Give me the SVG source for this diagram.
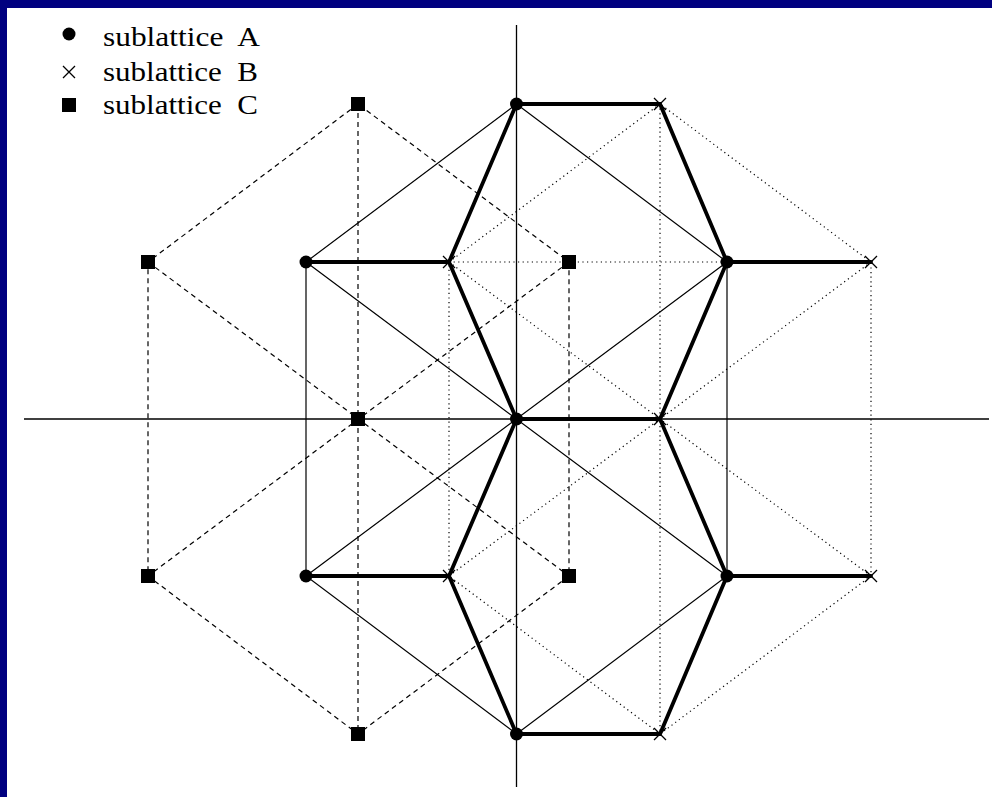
<svg xmlns="http://www.w3.org/2000/svg" width="992" height="797" viewBox="0 0 992 797">
<style>
.ax{stroke:#000;stroke-width:1.3;fill:none}
.a{stroke:#000;stroke-width:1.2;fill:none}
.b{stroke:#000;stroke-width:1.2;fill:none;stroke-dasharray:1.2 3.4}
.c{stroke:#000;stroke-width:1.2;fill:none;stroke-dasharray:5 4}
.t{stroke:#000;stroke-width:3.8;fill:none;stroke-linecap:round}
.x{stroke:#000;stroke-width:1.3;fill:none}
.lbl{font-family:"Liberation Serif","Times New Roman",serif;font-size:27px;fill:#000}
</style>
<defs>
<circle id="mA" r="6.5" fill="#000"/>
<path id="mB" d="M-6,-6L6,6M-6,6L6,-6" class="x"/>
<rect id="mC" x="-7" y="-7" width="14" height="14" fill="#000"/>
</defs>
<rect x="0" y="0" width="992" height="797" fill="#fff"/>
<rect x="0" y="0" width="992" height="8" fill="#000080"/>
<rect x="0" y="0" width="7" height="797" fill="#000080"/>
<g id="axes">
<line class="ax" x1="24" y1="419" x2="989" y2="419"/>
<line class="ax" x1="516.5" y1="25" x2="516.5" y2="787"/>
</g>
<g id="connectors">
<g id="sublatticeC-lines">
<path class="c" d="M358,104L148,262L148,576L358,734L569,576L569,262Z"/>
<path class="c" d="M358,104L358,734M148,262L569,576M569,262L148,576"/>
</g>
<g id="sublatticeB-lines">
<path class="b" d="M660,104L449,262L449,576L660,734L871,576L871,262Z"/>
<path class="b" d="M660,104L660,734M449,262L871,576M871,262L449,576M449,262L871,262"/>
</g>
<g id="sublatticeA-lines">
<path class="a" d="M516.5,104L306,262L306,576L516.5,734L727,576L727,262Z"/>
<path class="a" d="M306,262L727,576M727,262L306,576"/>
</g>
<g id="bonds">
<path class="t" d="M306,262L449,262L516.5,104L660,104L727,262L871,262"/>
<path class="t" d="M449,262L516.5,419L660,419L727,262"/>
<path class="t" d="M306,576L449,576L516.5,419"/>
<path class="t" d="M660,419L727,576L871,576"/>
<path class="t" d="M449,576L516.5,734L660,734L727,576"/>
</g>
</g>
<g id="nodesA">
<use href="#mA" x="516.5" y="104"/>
<use href="#mA" x="306" y="262"/>
<use href="#mA" x="727" y="262"/>
<use href="#mA" x="516.5" y="419"/>
<use href="#mA" x="306" y="576"/>
<use href="#mA" x="727" y="576"/>
<use href="#mA" x="516.5" y="734"/>
</g>
<g id="nodesB">
<use href="#mB" x="660" y="104"/>
<use href="#mB" x="449" y="262"/>
<use href="#mB" x="871" y="262"/>
<use href="#mB" x="660" y="419"/>
<use href="#mB" x="449" y="576"/>
<use href="#mB" x="871" y="576"/>
<use href="#mB" x="660" y="734"/>
</g>
<g id="nodesC">
<use href="#mC" x="358" y="104"/>
<use href="#mC" x="148" y="262"/>
<use href="#mC" x="569" y="262"/>
<use href="#mC" x="358" y="419"/>
<use href="#mC" x="148" y="576"/>
<use href="#mC" x="569" y="576"/>
<use href="#mC" x="358" y="734"/>
</g>
<g id="legend">
<use href="#mA" x="69" y="34"/>
<use href="#mB" x="69" y="72"/>
<use href="#mC" x="69" y="105"/>
<text class="lbl" x="103" y="46" textLength="157" lengthAdjust="spacingAndGlyphs" xml:space="preserve">sublattice  A</text>
<text class="lbl" x="103" y="81" textLength="155" lengthAdjust="spacingAndGlyphs" xml:space="preserve">sublattice  B</text>
<text class="lbl" x="103" y="114" textLength="155" lengthAdjust="spacingAndGlyphs" xml:space="preserve">sublattice  C</text>
</g>
</svg>
